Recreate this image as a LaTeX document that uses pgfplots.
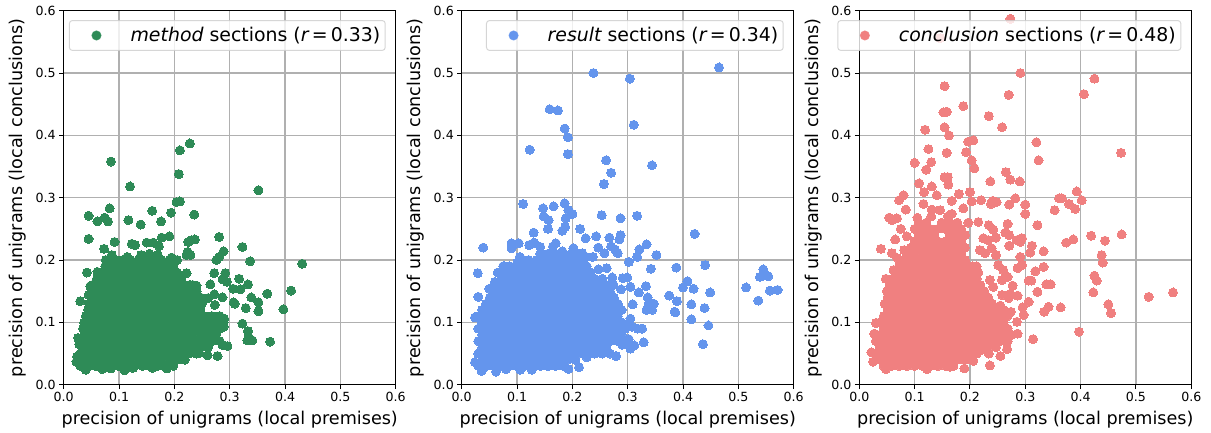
\documentclass[border=0pt]{standalone}
\usepackage{pgfplots}
\pgfplotsset{compat=1.18}
\usepackage{fontspec}
\setmainfont{DejaVu Sans}
\definecolor{cmeth}{HTML}{2E8B57}
\definecolor{cres}{HTML}{6495ED}
\definecolor{cconc}{HTML}{F08080}
\definecolor{gridc}{HTML}{B0B0B0}
\definecolor{legc}{HTML}{CCCCCC}
% The interiors of the solid clouds cannot be read point by point; those rows are estimates that follow the cloud's outline.
\pgfplotsset{
  panel/.style={
    scale only axis,width=332pt,height=374pt,anchor=south west,
    xmin=0,xmax=0.6,ymin=0,ymax=0.6,
    xtick={0,0.1,0.2,0.3,0.4,0.5,0.6},ytick={0,0.1,0.2,0.3,0.4,0.5,0.6},
    /pgf/number format/assume math mode=true,
    /pgf/number format/fixed,/pgf/number format/fixed zerofill,/pgf/number format/precision=1,
    scaled ticks=false,
    tick label style={font=\fontsize{12.6}{14}\selectfont,black},
    tick align=outside,major tick length=4.4pt,
    every tick/.style={black,line width=1pt},
    axis line style={black,line width=1pt},
    xtick pos=bottom,ytick pos=left,
    grid=major,grid style={gridc,line width=1.2pt},
    axis on top,
    xlabel={precision of unigrams (local premises)},
    ylabel={precision of unigrams (local conclusions)},
    every axis x label/.style={at={(axis description cs:0.5,0)},anchor=center,yshift=-35.3pt,font=\fontsize{17.6}{20}\selectfont,black},
    every axis y label/.style={at={(axis description cs:0,0.5)},anchor=center,rotate=90,yshift=45.7pt,font=\fontsize{17.6}{20}\selectfont,black},
    legend cell align=left,
    legend style={at={(0.97,0.975)},anchor=north east,draw=legc,rounded corners=3pt,fill=white,
      fill opacity=0.8,draw opacity=0.8,text opacity=1,line width=1pt,
      font=\fontsize{18.9}{21}\selectfont,inner xsep=3pt,inner ysep=5pt},
  },
  dots/.style={only marks,mark=*,mark size=4.5pt,mark options={draw=#1,fill=#1,line width=0pt},forget plot},
}
\newcommand{\lgimg}[1]{\addlegendimage{legend image code/.code={\path (-23.6pt,0) (31.6pt,0);\fill[#1,fill opacity=1] (0,0) circle (4.5pt);}}}
\begin{document}
\begin{tikzpicture}
\useasboundingbox (0,0) rectangle (1211pt,432pt);
\begin{axis}[panel,at={(63.7pt,47.3pt)}]
\addplot[dots=cmeth] coordinates {
(.03,.03)(.044,.03)(.058,.03)(.072,.03)(.086,.03)(.1,.03)(.114,.03)(.128,.03)(.142,.03)(.156,.03)(.17,.03)(.184,.03)(.198,.03)
(.04,.024)(.07,.025)(.085,.026)(.11,.023)(.125,.027)(.16,.027)(.186,.026)(.024,.045)(.023,.037)(.026,.075)(.028,.065)
(.037,.04)(.051,.04)(.065,.04)(.079,.04)(.093,.04)(.107,.04)(.121,.04)(.135,.04)(.149,.04)(.163,.04)(.177,.04)(.191,.04)(.205,.04)(.219,.04)
(.03,.05)(.044,.05)(.058,.05)(.072,.05)(.086,.05)(.1,.05)(.114,.05)(.128,.05)(.142,.05)(.156,.05)(.17,.05)(.184,.05)(.198,.05)(.212,.05)(.226,.05)(.24,.05)
(.037,.06)(.051,.06)(.065,.06)(.079,.06)(.093,.06)(.107,.06)(.121,.06)(.135,.06)(.149,.06)(.163,.06)(.177,.06)(.191,.06)(.205,.06)(.219,.06)(.233,.06)(.247,.06)(.261,.06)
(.03,.07)(.044,.07)(.058,.07)(.072,.07)(.086,.07)(.1,.07)(.114,.07)(.128,.07)(.142,.07)(.156,.07)(.17,.07)(.184,.07)(.198,.07)(.212,.07)(.226,.07)(.24,.07)(.254,.07)(.268,.07)(.282,.07)
(.037,.08)(.051,.08)(.065,.08)(.079,.08)(.093,.08)(.107,.08)(.121,.08)(.135,.08)(.149,.08)(.163,.08)(.177,.08)(.191,.08)(.205,.08)(.219,.08)(.233,.08)(.247,.08)(.261,.08)(.275,.08)
(.035,.09)(.044,.09)(.058,.09)(.072,.09)(.086,.09)(.1,.09)(.114,.09)(.128,.09)(.142,.09)(.156,.09)(.17,.09)(.184,.09)(.198,.09)(.212,.09)(.226,.09)(.24,.09)(.254,.09)(.268,.09)(.282,.09)
(.037,.1)(.051,.1)(.065,.1)(.079,.1)(.093,.1)(.107,.1)(.121,.1)(.135,.1)(.149,.1)(.163,.1)(.177,.1)(.191,.1)(.205,.1)(.219,.1)(.233,.1)(.247,.1)(.261,.1)(.275,.1)(.289,.1)
(.04,.11)(.044,.11)(.058,.11)(.072,.11)(.086,.11)(.1,.11)(.114,.11)(.128,.11)(.142,.11)(.156,.11)(.17,.11)(.184,.11)(.198,.11)(.212,.11)(.226,.11)(.24,.11)(.254,.11)(.268,.11)(.282,.11)
(.044,.12)(.051,.12)(.065,.12)(.079,.12)(.093,.12)(.107,.12)(.121,.12)(.135,.12)(.149,.12)(.163,.12)(.177,.12)(.191,.12)(.205,.12)(.219,.12)(.233,.12)(.247,.12)
(.046,.13)(.058,.13)(.072,.13)(.086,.13)(.1,.13)(.114,.13)(.128,.13)(.142,.13)(.156,.13)(.17,.13)(.184,.13)(.198,.13)(.212,.13)(.226,.13)(.24,.13)(.25,.13)
(.051,.14)(.065,.14)(.079,.14)(.093,.14)(.107,.14)(.121,.14)(.135,.14)(.149,.14)(.163,.14)(.177,.14)(.191,.14)(.205,.14)(.219,.14)(.233,.14)(.247,.14)
(.05,.15)(.058,.15)(.072,.15)(.086,.15)(.1,.15)(.114,.15)(.128,.15)(.142,.15)(.156,.15)(.17,.15)(.184,.15)(.198,.15)(.212,.15)(.226,.15)(.24,.15)
(.052,.16)(.065,.16)(.079,.16)(.093,.16)(.107,.16)(.121,.16)(.135,.16)(.149,.16)(.163,.16)(.177,.16)(.191,.16)(.205,.16)(.219,.16)(.233,.16)
(.06,.17)(.072,.17)(.086,.17)(.1,.17)(.114,.17)(.128,.17)(.142,.17)(.156,.17)(.17,.17)(.184,.17)(.198,.17)(.212,.17)
(.067,.18)(.079,.18)(.093,.18)(.107,.18)(.121,.18)(.135,.18)(.149,.18)(.163,.18)(.177,.18)(.191,.18)(.205,.18)
(.075,.19)(.086,.19)(.1,.19)(.114,.19)(.128,.19)(.142,.19)(.156,.19)(.17,.19)(.184,.19)(.198,.19)
(.08,.2)(.093,.2)(.107,.2)(.121,.2)(.135,.2)(.149,.2)(.163,.2)(.177,.2)(.191,.2)
(.0855,.358)(.21,.376)(.228,.387)(.208,.338)(.12,.318)(.352,.312)(.204,.293)(.21,.294)(.16,.279)(.194,.276)(.236,.273)(.083,.283)
(.045,.271)(.061,.262)(.074,.268)(.08,.262)(.117,.264)(.139,.257)(.176,.262)(.045,.234)(.092,.229)(.073,.218)(.123,.226)(.129,.224)
(.15,.228)(.162,.228)(.177,.236)(.172,.222)(.191,.238)(.225,.229)(.231,.232)(.237,.233)(.281,.237)(.289,.214)(.281,.205)(.276,.2)
(.323,.221)(.337,.198)(.431,.194)(.411,.151)(.397,.121)(.368,.146)(.333,.161)(.317,.17)(.319,.153)(.306,.154)(.295,.165)(.292,.179)
(.287,.169)(.272,.179)(.265,.161)(.222,.179)(.339,.14)(.352,.132)(.352,.118)(.329,.123)(.309,.13)(.307,.132)(.287,.14)(.272,.145)
(.261,.139)(.273,.128)(.246,.13)(.323,.098)(.333,.086)(.334,.077)(.332,.071)(.341,.071)(.373,.069)(.296,.062)(.287,.064)(.278,.046)
(.26,.047)(.245,.051)(.29,.106)(.289,.093)(.276,.082)(.03,.134)(.042,.18)(.061,.181)(.048,.158)(.045,.144)(.063,.169)(.087,.208)
(.076,.2)(.222,.208)(.229,.208)(.224,.213)(.195,.204)(.205,.2)(.213,.163)(.228,.16)(.24,.159)(.115,.205)(.14,.208)(.155,.21)(.17,.208)
};
\lgimg{cmeth}
\addlegendentry{{\itshape method} sections ({\itshape r}\,=\,0.33)}
\end{axis}
\begin{axis}[panel,at={(461.7pt,47.3pt)}]
\addplot[dots=cres] coordinates {
(.03,.03)(.044,.03)(.058,.03)(.072,.03)(.086,.03)(.1,.03)(.114,.03)(.128,.03)(.142,.03)(.156,.03)(.17,.03)(.184,.03)
(.037,.04)(.051,.04)(.065,.04)(.079,.04)(.093,.04)(.107,.04)(.121,.04)(.135,.04)(.149,.04)(.163,.04)(.177,.04)(.191,.04)(.205,.04)
(.03,.05)(.044,.05)(.058,.05)(.072,.05)(.086,.05)(.1,.05)(.114,.05)(.128,.05)(.142,.05)(.156,.05)(.17,.05)(.184,.05)(.198,.05)(.212,.05)(.226,.05)(.24,.05)(.254,.05)
(.037,.06)(.051,.06)(.065,.06)(.079,.06)(.093,.06)(.107,.06)(.121,.06)(.135,.06)(.149,.06)(.163,.06)(.177,.06)(.191,.06)(.205,.06)(.219,.06)(.233,.06)(.247,.06)(.261,.06)
(.03,.07)(.044,.07)(.058,.07)(.072,.07)(.086,.07)(.1,.07)(.114,.07)(.128,.07)(.142,.07)(.156,.07)(.17,.07)(.184,.07)(.198,.07)(.212,.07)(.226,.07)(.24,.07)(.254,.07)(.268,.07)(.282,.07)(.296,.07)
(.037,.08)(.051,.08)(.065,.08)(.079,.08)(.093,.08)(.107,.08)(.121,.08)(.135,.08)(.149,.08)(.163,.08)(.177,.08)(.191,.08)(.205,.08)(.219,.08)(.233,.08)(.247,.08)(.261,.08)(.275,.08)(.289,.08)
(.03,.09)(.044,.09)(.058,.09)(.072,.09)(.086,.09)(.1,.09)(.114,.09)(.128,.09)(.142,.09)(.156,.09)(.17,.09)(.184,.09)(.198,.09)(.212,.09)(.226,.09)(.24,.09)(.254,.09)(.268,.09)(.282,.09)(.296,.09)
(.037,.1)(.051,.1)(.065,.1)(.079,.1)(.093,.1)(.107,.1)(.121,.1)(.135,.1)(.149,.1)(.163,.1)(.177,.1)(.191,.1)(.205,.1)(.219,.1)(.233,.1)(.247,.1)(.261,.1)(.275,.1)(.289,.1)(.303,.1)
(.03,.11)(.044,.11)(.058,.11)(.072,.11)(.086,.11)(.1,.11)(.114,.11)(.128,.11)(.142,.11)(.156,.11)(.17,.11)(.184,.11)(.198,.11)(.212,.11)(.226,.11)(.24,.11)(.254,.11)(.268,.11)(.282,.11)
(.037,.12)(.051,.12)(.065,.12)(.079,.12)(.093,.12)(.107,.12)(.121,.12)(.135,.12)(.149,.12)(.163,.12)(.177,.12)(.191,.12)(.205,.12)(.219,.12)(.233,.12)(.247,.12)(.261,.12)(.275,.12)(.289,.12)
(.044,.13)(.058,.13)(.072,.13)(.086,.13)(.1,.13)(.114,.13)(.128,.13)(.142,.13)(.156,.13)(.17,.13)(.184,.13)(.198,.13)(.212,.13)(.226,.13)(.24,.13)(.254,.13)(.268,.13)(.282,.13)
(.051,.14)(.065,.14)(.079,.14)(.093,.14)(.107,.14)(.121,.14)(.135,.14)(.149,.14)(.163,.14)(.177,.14)(.191,.14)(.205,.14)(.219,.14)(.233,.14)(.247,.14)(.261,.14)(.275,.14)
(.058,.15)(.072,.15)(.086,.15)(.1,.15)(.114,.15)(.128,.15)(.142,.15)(.156,.15)(.17,.15)(.184,.15)(.198,.15)(.212,.15)(.226,.15)(.24,.15)(.254,.15)(.268,.15)
(.06,.165)(.065,.16)(.079,.16)(.093,.16)(.107,.16)(.121,.16)(.135,.16)(.149,.16)(.163,.16)(.177,.16)(.191,.16)(.205,.16)(.219,.16)(.233,.16)(.247,.16)(.261,.16)
(.072,.17)(.086,.17)(.1,.17)(.114,.17)(.128,.17)(.142,.17)(.156,.17)(.17,.17)(.184,.17)(.198,.17)(.212,.17)(.226,.17)(.24,.17)(.254,.17)
(.065,.18)(.079,.18)(.093,.18)(.107,.18)(.121,.18)(.135,.18)(.149,.18)(.163,.18)(.177,.18)(.191,.18)(.205,.18)(.219,.18)(.233,.18)
(.077,.19)(.086,.19)(.1,.19)(.114,.19)(.128,.19)(.142,.19)(.156,.19)(.17,.19)(.184,.19)(.198,.19)(.212,.19)(.226,.19)
(.112,.2)(.121,.2)(.135,.2)(.149,.2)(.163,.2)(.177,.2)(.191,.2)(.205,.2)(.219,.2)
(.142,.21)(.156,.21)(.17,.21)(.184,.21)(.198,.21)(.212,.21)(.225,.205)
(.465,.509)(.238,.5)(.304,.491)(.159,.442)(.174,.44)(.311,.417)(.186,.411)(.192,.397)(.123,.377)(.192,.37)(.261,.36)(.344,.352)(.27,.34)(.257,.322)
(.111,.29)(.186,.291)(.147,.283)(.166,.286)(.193,.28)(.2,.274)(.148,.27)(.157,.264)(.188,.267)(.253,.272)(.287,.267)(.317,.271)(.156,.25)(.187,.253)
(.182,.247)(.214,.25)(.13,.244)(.224,.235)(.243,.238)(.267,.236)(.287,.24)(.285,.233)(.421,.242)(.039,.22)(.09,.227)(.103,.227)(.09,.219)(.122,.224)
(.131,.228)(.142,.221)(.17,.227)(.165,.222)(.182,.214)(.202,.219)(.218,.211)(.247,.22)(.258,.211)(.237,.205)(.27,.222)(.277,.217)(.282,.211)(.334,.225)
(.321,.217)(.317,.205)(.352,.208)(.302,.197)(.342,.186)(.388,.188)(.44,.192)(.029,.179)(.03,.141)(.05,.154)(.024,.108)(.024,.036)(.036,.022)(.062,.021)
(.545,.185)(.539,.173)(.554,.174)(.514,.156)(.557,.151)(.571,.152)(.536,.135)(.449,.148)(.419,.154)(.408,.166)(.4,.156)(.375,.143)(.389,.134)(.415,.129)
(.439,.123)(.385,.117)(.386,.116)(.415,.105)(.446,.095)(.436,.065)(.333,.158)(.336,.14)(.347,.13)(.334,.12)(.344,.12)(.338,.13)(.32,.148)(.309,.129)
(.305,.157)(.299,.172)(.291,.171)(.272,.172)(.274,.16)(.288,.153)(.262,.187)(.247,.185)(.326,.09)(.318,.09)(.329,.068)(.312,.063)(.305,.058)(.302,.073)
(.29,.064)(.279,.046)(.268,.05)(.305,.106)(.308,.093)(.226,.044)(.212,.028)(.193,.025)(.185,.03)(.127,.024)(.106,.024)(.08,.025)(.075,.19)(.105,.205)(.1,.195)
};
\lgimg{cres}
\addlegendentry{{\itshape result} sections ({\itshape r}\,=\,0.34)}
\end{axis}
\begin{axis}[panel,at={(859.3pt,47.3pt)}]
\addplot[dots=cconc] coordinates {
(.044,.03)(.058,.03)(.072,.03)(.086,.03)(.1,.03)(.114,.03)(.128,.03)(.142,.03)(.156,.03)(.17,.03)
(.037,.04)(.051,.04)(.065,.04)(.079,.04)(.093,.04)(.107,.04)(.121,.04)(.135,.04)(.149,.04)(.163,.04)(.177,.04)(.191,.04)(.205,.04)
(.03,.05)(.044,.05)(.058,.05)(.072,.05)(.086,.05)(.1,.05)(.114,.05)(.128,.05)(.142,.05)(.156,.05)(.17,.05)(.184,.05)(.198,.05)(.212,.05)
(.037,.06)(.051,.06)(.065,.06)(.079,.06)(.093,.06)(.107,.06)(.121,.06)(.135,.06)(.149,.06)(.163,.06)(.177,.06)(.191,.06)(.205,.06)(.219,.06)(.233,.06)(.247,.06)
(.03,.07)(.044,.07)(.058,.07)(.072,.07)(.086,.07)(.1,.07)(.114,.07)(.128,.07)(.142,.07)(.156,.07)(.17,.07)(.184,.07)(.198,.07)(.212,.07)(.226,.07)(.24,.07)(.254,.07)(.268,.07)
(.037,.08)(.051,.08)(.065,.08)(.079,.08)(.093,.08)(.107,.08)(.121,.08)(.135,.08)(.149,.08)(.163,.08)(.177,.08)(.191,.08)(.205,.08)(.219,.08)(.233,.08)(.247,.08)(.261,.08)(.275,.08)
(.044,.09)(.058,.09)(.072,.09)(.086,.09)(.1,.09)(.114,.09)(.128,.09)(.142,.09)(.156,.09)(.17,.09)(.184,.09)(.198,.09)(.212,.09)(.226,.09)(.24,.09)(.254,.09)(.268,.09)
(.037,.1)(.051,.1)(.065,.1)(.079,.1)(.093,.1)(.107,.1)(.121,.1)(.135,.1)(.149,.1)(.163,.1)(.177,.1)(.191,.1)(.205,.1)(.219,.1)(.233,.1)(.247,.1)(.261,.1)
(.044,.11)(.058,.11)(.072,.11)(.086,.11)(.1,.11)(.114,.11)(.128,.11)(.142,.11)(.156,.11)(.17,.11)(.184,.11)(.198,.11)(.212,.11)(.226,.11)(.24,.11)(.254,.11)(.268,.11)
(.051,.12)(.065,.12)(.079,.12)(.093,.12)(.107,.12)(.121,.12)(.135,.12)(.149,.12)(.163,.12)(.177,.12)(.191,.12)(.205,.12)(.219,.12)(.233,.12)(.247,.12)(.261,.12)
(.05,.13)(.058,.13)(.072,.13)(.086,.13)(.1,.13)(.114,.13)(.128,.13)(.142,.13)(.156,.13)(.17,.13)(.184,.13)(.198,.13)(.212,.13)(.226,.13)(.24,.13)
(.051,.14)(.065,.14)(.079,.14)(.093,.14)(.107,.14)(.121,.14)(.135,.14)(.149,.14)(.163,.14)(.177,.14)(.191,.14)(.205,.14)(.219,.14)(.233,.14)
(.05,.15)(.058,.15)(.072,.15)(.086,.15)(.1,.15)(.114,.15)(.128,.15)(.142,.15)(.156,.15)(.17,.15)(.184,.15)(.198,.15)(.212,.15)(.226,.15)
(.055,.16)(.065,.16)(.079,.16)(.093,.16)(.107,.16)(.121,.16)(.135,.16)(.149,.16)(.163,.16)(.177,.16)(.191,.16)(.205,.16)(.219,.16)
(.06,.17)(.072,.17)(.086,.17)(.1,.17)(.114,.17)(.128,.17)(.142,.17)(.156,.17)(.17,.17)(.184,.17)(.198,.17)(.212,.17)
(.067,.18)(.079,.18)(.093,.18)(.107,.18)(.121,.18)(.135,.18)(.149,.18)(.163,.18)(.177,.18)(.191,.18)(.205,.18)
(.072,.19)(.086,.19)(.1,.19)(.114,.19)(.128,.19)(.142,.19)(.156,.19)(.17,.19)(.184,.19)(.198,.19)(.212,.19)
(.079,.2)(.093,.2)(.107,.2)(.121,.2)(.135,.2)(.149,.2)(.163,.2)(.177,.2)(.191,.2)
(.086,.21)(.1,.21)(.114,.21)(.128,.21)(.142,.21)(.156,.21)(.17,.21)(.184,.21)
(.093,.22)(.107,.22)(.121,.22)(.135,.22)(.149,.22)(.163,.22)(.177,.22)(.191,.22)
(.1,.23)(.114,.23)(.128,.23)(.142,.23)(.156,.23)(.17,.23)(.184,.23)
(.107,.24)(.121,.24)(.135,.24)(.163,.24)(.177,.24)(.191,.24)
(.1,.25)(.114,.25)(.128,.25)(.142,.25)(.156,.25)(.17,.25)(.184,.25)
(.107,.26)(.121,.26)(.149,.26)(.163,.26)(.177,.26)(.197,.26)(.105,.268)(.13,.27)(.16,.27)
(.273,.587)(.146,.556)(.291,.5)(.425,.491)(.154,.479)(.406,.466)(.27,.465)(.188,.447)(.152,.437)(.158,.438)(.234,.431)(.258,.413)(.154,.413)(.119,.409)
(.162,.4)(.197,.39)(.206,.392)(.32,.389)(.125,.378)(.158,.372)(.193,.373)(.473,.372)(.324,.36)(.203,.36)(.13,.357)(.1,.356)(.208,.347)(.121,.345)(.154,.333)
(.16,.333)(.265,.341)(.273,.329)(.29,.326)(.237,.326)(.108,.323)(.161,.321)(.131,.318)(.117,.309)(.2,.309)(.393,.31)(.08,.304)(.072,.296)(.14,.304)(.18,.306)
(.361,.299)(.366,.299)(.402,.296)(.282,.299)(.167,.295)(.203,.294)(.22,.296)(.241,.295)(.248,.293)(.238,.29)(.271,.289)(.3,.289)(.379,.29)(.39,.282)(.353,.28)
(.3,.274)(.084,.281)(.116,.29)(.131,.281)(.146,.28)(.188,.283)(.167,.274)(.054,.268)(.059,.264)(.068,.267)(.075,.25)(.215,.261)(.268,.258)(.322,.256)(.234,.256)
(.242,.249)(.264,.244)(.247,.236)(.271,.24)(.285,.232)(.294,.235)(.291,.229)(.271,.223)(.312,.223)(.309,.212)(.333,.214)(.374,.228)(.387,.233)(.419,.239)
(.444,.231)(.474,.241)(.438,.208)(.44,.196)(.333,.189)(.318,.182)(.291,.205)(.294,.192)(.286,.187)(.306,.167)(.311,.167)(.338,.161)(.346,.161)(.322,.149)
(.286,.143)(.425,.175)(.429,.167)(.423,.148)(.45,.129)(.455,.115)(.523,.141)(.567,.148)(.364,.124)(.342,.125)(.334,.117)(.306,.133)(.295,.124)(.297,.112)
(.397,.085)(.314,.073)(.286,.082)(.285,.101)(.255,.046)(.267,.057)(.236,.031)(.206,.038)(.234,.05)(.039,.218)(.059,.211)(.069,.203)(.065,.233)(.086,.238)
(.048,.17)(.081,.216)(.062,.184)(.03,.099)(.027,.082)(.022,.052)(.025,.037)(.048,.025)(.19,.026)(.122,.025)(.164,.029)(.046,.13)(.251,.192)(.26,.184)(.268,.173)
(.258,.168)(.277,.159)(.236,.168)(.242,.157)(.247,.208)(.218,.216)(.227,.211)(.239,.219)(.224,.235)(.233,.232)(.273,.146)(.258,.144)(.27,.139)(.255,.127)
(.274,.117)(.26,.093)(.27,.08)(.242,.082)(.248,.069)(.209,.056)(.221,.056)(.197,.042)(.205,.19)(.215,.18)
};
\lgimg{cconc}
\addlegendentry{{\itshape conclusion} sections ({\itshape r}\,=\,0.48)}
\end{axis}
\end{tikzpicture}
\end{document}
